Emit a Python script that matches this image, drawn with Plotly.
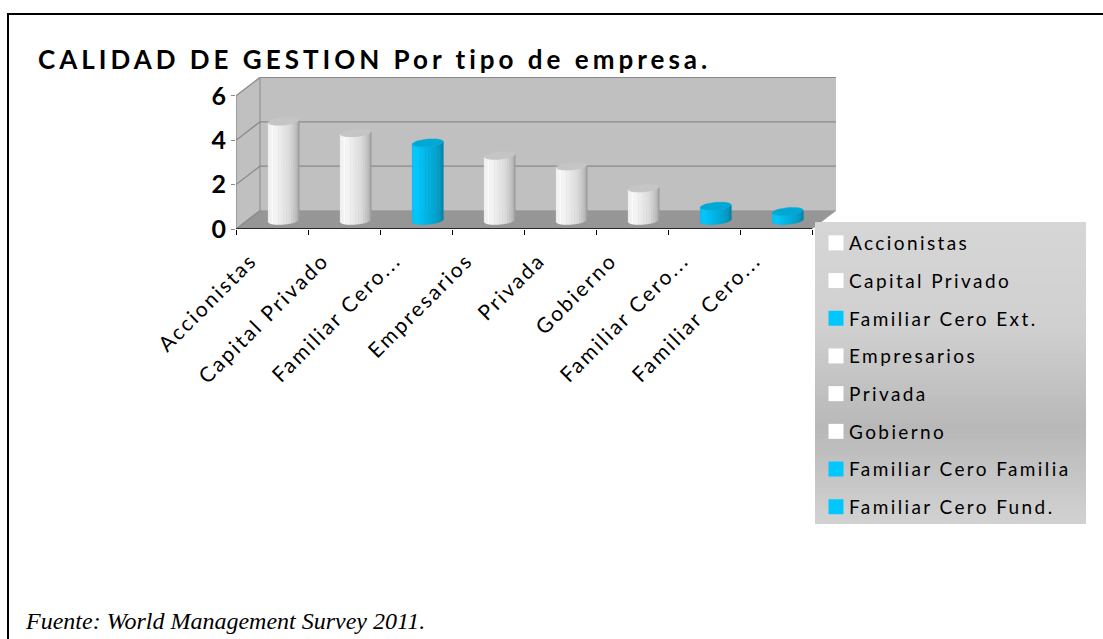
import plotly.graph_objects as go
import math

categories = ["Accionistas", "Capital Privado", "Familiar Cero...", "Empresarios", "Privada", "Gobierno", "Familiar Cero...", "Familiar Cero..."]
legend_names = ["Accionistas", "Capital Privado", "Familiar Cero Ext.", "Empresarios", "Privada", "Gobierno", "Familiar Cero Familia", "Familiar Cero Fund."]
values = [4.47, 3.95, 3.5, 2.93, 2.45, 1.46, 0.65, 0.41]
kinds = ["w", "w", "b", "w", "w", "w", "b", "b"]
y_ticks = [0, 2, 4, 6]

W, H = 1103, 639
L, R, T, B = 236, 836, 77, 229
PX = 72.0
PY = 22.2
DX, DY = 24 / PX, 18.4 / PY
XMAX, YMAX = (R - L) / PX, (B - T) / PY

WALL = "#C0C0C0"
FLOOR = "#969696"
EDGE = "#8A8A8A"


def paper(px, py):
    return (px - L) / (R - L), (B - py) / (B - T)


def mix(stops, f):
    for (a, ca), (b, cb) in zip(stops, stops[1:]):
        if f <= b:
            k = (f - a) / (b - a)
            c = [round(ca[i] + (cb[i] - ca[i]) * k) for i in range(3)]
            return f"rgb({c[0]},{c[1]},{c[2]})"
    return f"rgb({stops[-1][1][0]},{stops[-1][1][1]},{stops[-1][1][2]})"


SHADE = {
    "w": [(0, (236, 236, 236)), (0.25, (250, 250, 250)), (0.6, (222, 222, 222)), (0.8, (190, 190, 190)), (1, (150, 150, 150))],
    "b": [(0, (0, 190, 240)), (0.25, (0, 200, 255)), (0.6, (0, 170, 215)), (0.8, (0, 150, 190)), (1, (0, 125, 160))],
}
CAP = {"w": "#C5C5C5", "b": "#00A8D6"}
SWATCH = {"w": "#FFFFFF", "b": "#00C8FF"}

fig = go.Figure()


def poly(xs, ys, fill, line=None, width=1):
    fig.add_trace(go.Scatter(x=xs, y=ys, mode="lines", fill="toself", fillcolor=fill,
                             line=dict(color=line or fill, width=width if line else 0.5),
                             hoverinfo="skip", showlegend=False))


def seg(xs, ys, color, width=1.3):
    fig.add_trace(go.Scatter(x=xs, y=ys, mode="lines", line=dict(color=color, width=width),
                             hoverinfo="skip", showlegend=False))


# walls and floor
poly([DX, XMAX, XMAX, DX, DX], [DY, DY, YMAX, YMAX, DY], WALL)
poly([0, DX, DX, 0, 0], [0, DY, YMAX, 6, 0], WALL)
poly([0, 8, XMAX, DX, 0], [0, 0, DY, DY, 0], FLOOR)
for v in y_ticks:
    seg([0, DX, XMAX] if v else [0, DX], [v, v + DY, v + DY] if v else [0, DY], EDGE)
seg([0, 0], [0, 6], EDGE)
seg([DX, DX], [DY, YMAX], EDGE, 1)
seg([0, 8], [0, 0], "#000000", 1.6)

# cylinders
A = 15.4 / PX
TILT = 1.3 / PY
EB = 3.8 / PY
BASE = 0.38
N = 18


def lower(cx, cy, t):
    return cx + A * math.cos(t), cy + TILT * math.cos(t) - EB * math.sin(t)


for i, (v, kind) in enumerate(zip(values, kinds)):
    cx = i + 0.6625
    top = BASE + v
    for s in range(N):
        t0 = math.pi * (1 - s / N)
        t1 = math.pi * (1 - (s + 1) / N)
        x0, yb0 = lower(cx, BASE, t0)
        x1, yb1 = lower(cx, BASE, t1)
        _, yt0 = lower(cx, top, t0)
        _, yt1 = lower(cx, top, t1)
        poly([x0, x1, x1, x0, x0], [yb0, yb1, yt1, yt0, yb0], mix(SHADE[kind], (s + 0.5) / N))
    ts = [2 * math.pi * k / 48 for k in range(49)]
    poly([cx + A * math.cos(t) for t in ts],
         [top + TILT * math.cos(t) + EB * math.sin(t) for t in ts], CAP[kind])

# legend entries
for name, kind in zip(legend_names, kinds):
    fig.add_trace(go.Scatter(x=[None], y=[None], mode="markers", name=name, legendgroup=name,
                             marker=dict(symbol="square", size=15, color=SWATCH[kind], line=dict(width=0))))

# legend backing and frame
shapes = []
LG = [(0, (214, 214, 214)), (0.35, (208, 208, 208)), (0.68, (184, 184, 184)), (1, (210, 210, 210))]
lx0, lx1, ly0, ly1 = 815, 1086, 222, 524
n = 60
for k in range(n):
    a = ly0 + (ly1 - ly0) * k / n
    p0, q0 = paper(lx0, a)
    p1, q1 = paper(lx1, ly1)
    shapes.append(dict(type="rect", xref="paper", yref="paper", x0=p0, x1=p1, y0=q0, y1=q1,
                       fillcolor=mix(LG, (k + 0.5) / n), line=dict(width=0)))
fx0, fy0 = paper(8, 14)
fx1, fy1 = paper(1125, 660)
shapes.append(dict(type="rect", xref="paper", yref="paper", x0=fx0, x1=fx1, y0=fy0, y1=fy1,
                   line=dict(color="#000000", width=2), fillcolor="rgba(0,0,0,0)"))

ax, ay = paper(23, 621)

fig.update_layout(
    width=W, height=H, autosize=False,
    margin=dict(l=L, r=W - R, t=T, b=H - B, pad=0, autoexpand=False),
    paper_bgcolor="#FFFFFF", plot_bgcolor="rgba(0,0,0,0)",
    font=dict(family="Lato", color="#000000"),
    title=dict(text="<b>CALIDAD DE GESTION Por tipo de empresa.</b>", x=38 / W, xref="container", xanchor="left",
               y=1 - 60 / H, yref="container", yanchor="middle", font=dict(family="Lato", size=26, color="#000000")),
    showlegend=True,
    legend=dict(xref="container", yref="container", x=809 / W, y=1 - 224 / H, xanchor="left", yanchor="top",
                bgcolor="rgba(0,0,0,0)", borderwidth=0, font=dict(family="Lato", size=19, color="#000000"),
                tracegroupgap=10, traceorder="grouped", itemclick=False, itemdoubleclick=False,
                entrywidth=230, entrywidthmode="pixels"),
    xaxis=dict(range=[0, XMAX], showgrid=False, zeroline=False, showline=False,
               tickmode="array", tickvals=[i + 0.5 for i in range(8)], ticktext=categories,
               ticks="", tickangle=-45, tickfont=dict(family="Lato", size=21, color="#000000"),
               ticklabelshift=-21, ticklabelstandoff=14,
               minor=dict(tickmode="array", tickvals=list(range(9)), ticks="outside", ticklen=5, tickcolor="#000000", tickwidth=1.3, showgrid=False)),
    yaxis=dict(range=[0, YMAX], showgrid=False, zeroline=False, showline=False,
               tickmode="array", tickvals=y_ticks, ticks="outside", ticklen=4, tickcolor=EDGE, tickwidth=1.3,
               tickfont=dict(family="Lato", size=25, color="#000000", weight="bold")),
    shapes=shapes,
    annotations=[dict(text="<i>Fuente: World Management Survey 2011.</i>", xref="paper", yref="paper", x=ax, y=ay,
                      xanchor="left", yanchor="middle", showarrow=False,
                      font=dict(family="Liberation Serif", size=24, color="#000000"))],
)

post = """
document.body.style.margin='0';
document.querySelectorAll('.gtitle').forEach(function(t){t.style.letterSpacing='4px';});
document.querySelectorAll('.xtick text').forEach(function(t){t.style.letterSpacing='2.3px';});
document.querySelectorAll('.legendtext').forEach(function(t){t.style.letterSpacing='2.4px';});
document.querySelectorAll('.legendsymbols').forEach(function(t){t.setAttribute('transform','translate(7,0)');});
document.querySelectorAll('.legend, .legend .scrollbox').forEach(function(t){t.removeAttribute('clip-path');t.style.clipPath='none';});
"""
fig.write_html("out.html", post_script=post, config={"displayModeBar": False})
